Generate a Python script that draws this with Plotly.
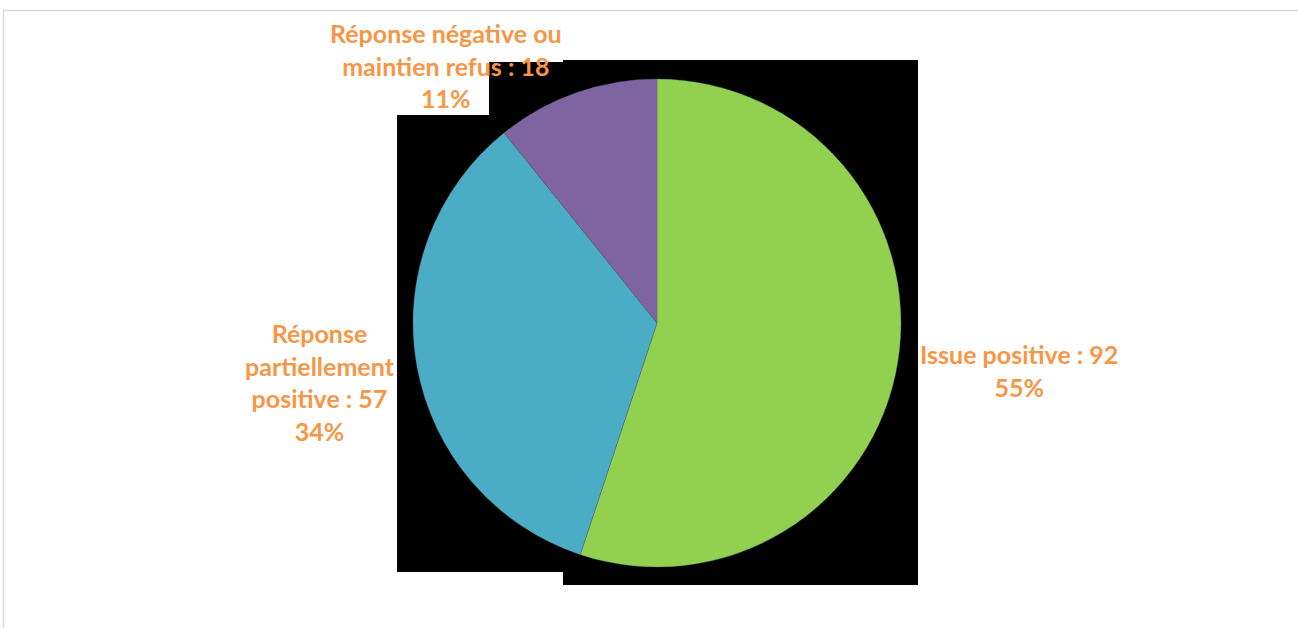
import plotly.graph_objects as go

# ---- data ----
categories = ["Issue positive", "Réponse partiellement positive", "Réponse négative ou maintien refus"]
label_lines = ["Issue positive", "Réponse<br>partiellement<br>positive", "Réponse négative ou<br>maintien refus"]
values = [92, 57, 18]
colors = ["#92D050", "#4BACC6", "#8064A2"]

W, H = 1298, 628
def px(x): return x / W
def py(y): return 1 - y / H

total = sum(values)
pcts = [round(v / total * 100) for v in values]

fig = go.Figure()
fig.add_trace(go.Pie(
    labels=categories, values=values, sort=False, direction="clockwise", rotation=0,
    marker=dict(colors=colors, line=dict(color="#5a6b73", width=0.4)),
    textinfo="none", hoverinfo="label+value+percent", showlegend=False,
    domain=dict(x=[px(413), px(901)], y=[py(567), py(79)]),
))

# black background artefact behind the pie
pts = [(563, 60), (918, 60), (918, 585), (563, 585), (563, 572), (397, 572),
       (397, 115), (489, 115), (489, 62), (563, 62)]
path = "M " + " L ".join(f"{px(x):.5f},{py(y):.5f}" for x, y in pts) + " Z"
shapes = [dict(type="path", path=path, xref="paper", yref="paper",
               fillcolor="black", line=dict(width=0), layer="below")]
# chart frame lines
shapes.append(dict(type="line", xref="paper", yref="paper", x0=px(3), x1=1, y0=py(10.5), y1=py(10.5),
                   line=dict(color="#d9d9d9", width=1.5), layer="below"))
shapes.append(dict(type="line", xref="paper", yref="paper", x0=px(3.5), x1=px(3.5), y0=py(10), y1=0,
                   line=dict(color="#d9d9d9", width=1.5), layer="below"))

label_pos = [(1019, 370), (320, 382), (446, 65)]
annotations = []
for i, (x, y) in enumerate(label_pos):
    annotations.append(dict(
        x=px(x), y=py(y), xref="paper", yref="paper", showarrow=False,
        text=f"<b>{label_lines[i]} : {values[i]}<br>{pcts[i]}%</b>",
        font=dict(family="Lato", size=25, color="#F79646"), align="center",
        xanchor="center", yanchor="middle",
    ))

fig.update_layout(
    width=W, height=H, margin=dict(l=0, r=0, t=0, b=0),
    paper_bgcolor="white", plot_bgcolor="white",
    shapes=shapes, annotations=annotations,
)
fig.write_html("out.html", config={"displayModeBar": False},
               post_script="document.body.style.margin='0';")
